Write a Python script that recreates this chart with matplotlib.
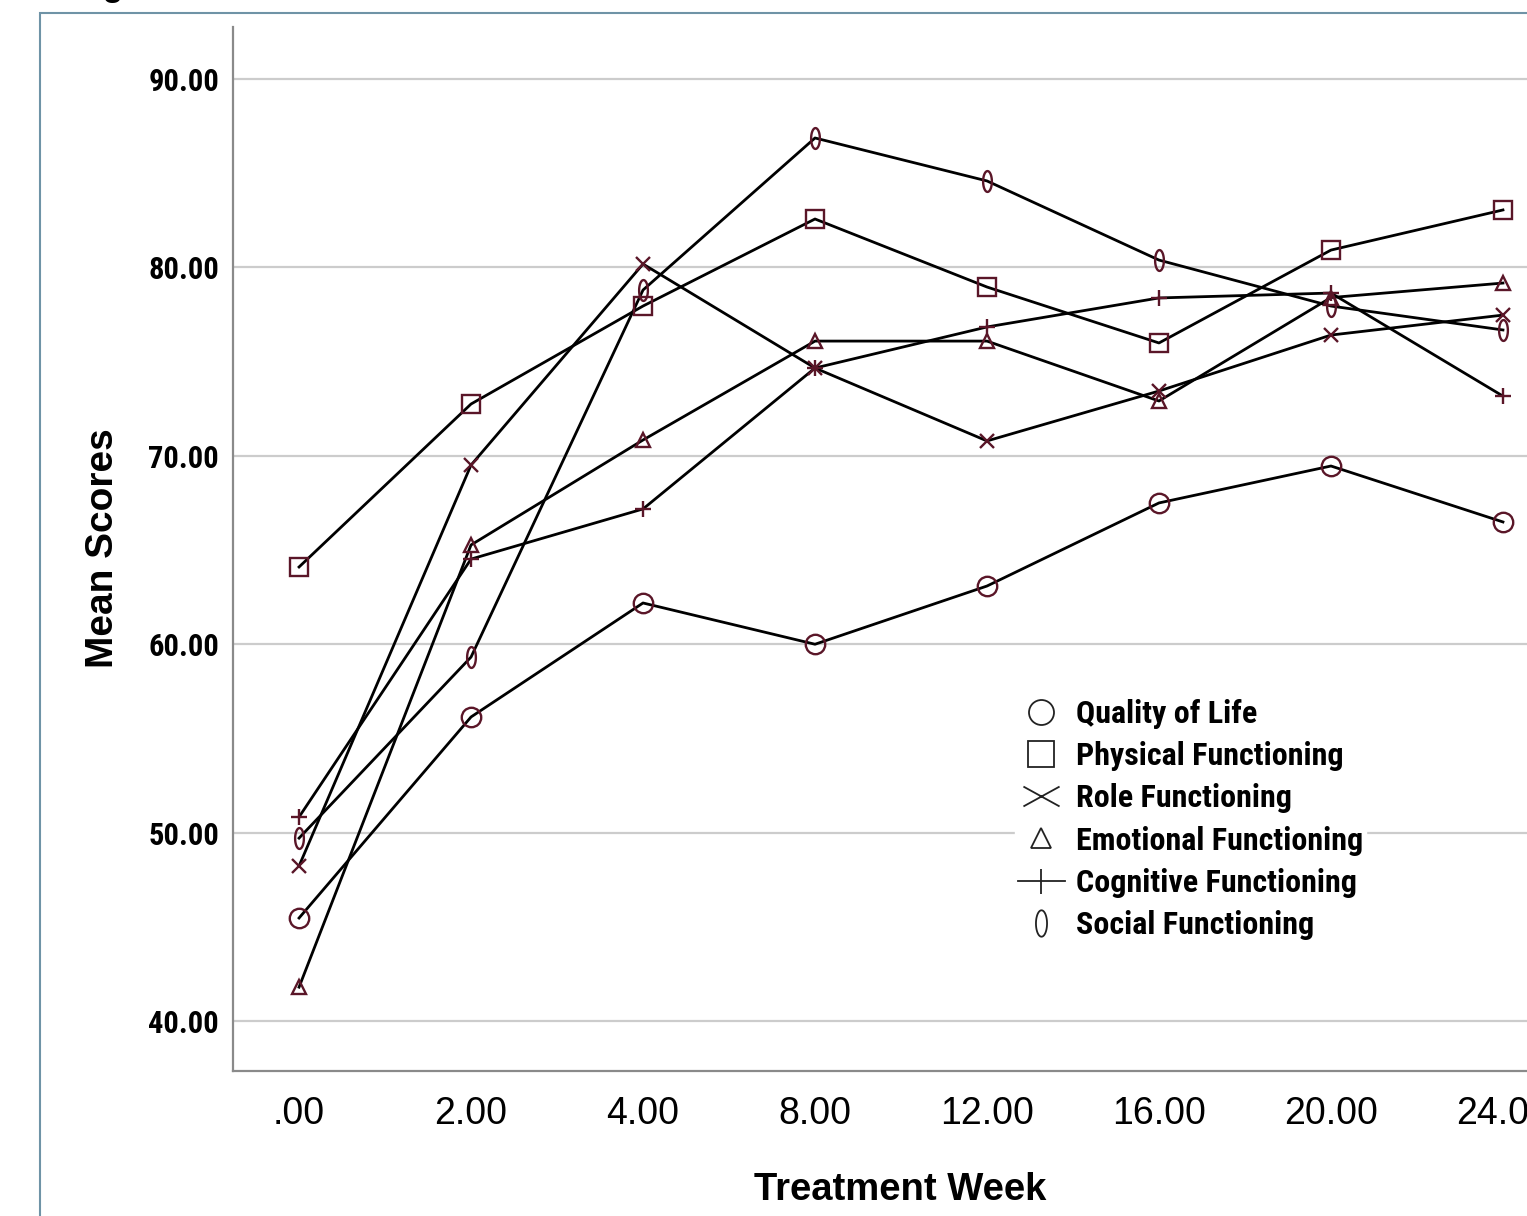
import matplotlib
matplotlib.use("Agg")
import matplotlib.pyplot as plt
from matplotlib.lines import Line2D
from matplotlib.path import Path
from matplotlib.patches import Rectangle
from matplotlib.font_manager import FontProperties
import numpy as np

weeks = [".00", "2.00", "4.00", "8.00", "12.00", "16.00", "20.00", "24.00"]
quality_of_life = [45.47, 56.14, 62.19, 60.00, 63.09, 67.50, 69.46, 66.49]
physical = [64.10, 72.75, 77.95, 82.57, 78.96, 75.99, 80.92, 83.05]
role = [48.23, 69.51, 80.18, 74.66, 70.79, 73.44, 76.41, 77.47]
emotional = [41.80, 65.27, 70.84, 76.09, 76.09, 72.91, 78.40, 79.17]
cognitive = [50.83, 64.52, 67.18, 74.66, 76.84, 78.38, 78.64, 73.17]
social = [49.71, 59.32, 78.80, 86.87, 84.59, 80.39, 77.95, 76.68]
series_names = ["Quality of Life", "Physical Functioning", "Role Functioning",
                "Emotional Functioning", "Cognitive Functioning", "Social Functioning"]
y_ticks = [40, 50, 60, 70, 80, 90]

W, H = 1527, 1216
fig = plt.figure(figsize=(W / 100, H / 100), dpi=100)
fig.patch.set_facecolor("white")

narrow = ["Liberation Sans Narrow", "Arial Narrow", "Roboto Condensed", "DejaVu Sans"]

# axes extends past right edge (cropped like the reference)
left_px, right_px, bottom_px, top_px = 233, 1569, 1071, 27
ax = fig.add_axes([left_px / W, (H - bottom_px) / H, (right_px - left_px) / W, (bottom_px - top_px) / H])

# ellipse "0" marker
t = np.linspace(0, 2 * np.pi, 60)
ell_verts = np.column_stack([0.42 * np.cos(t), np.sin(t)])
ellipse = Path(ell_verts, closed=True)
wide_x = Path([(-1, -0.55), (1, 0.55), (-1, 0.55), (1, -0.55)],
              [Path.MOVETO, Path.LINETO, Path.MOVETO, Path.LINETO])

mcol = "#5a1628"
series = [quality_of_life, physical, role, emotional, cognitive, social]
markers = ["o", "s", "x", "^", "+", ellipse]
msizes = [14, 13, 10, 10, 12, 15]

xs = np.arange(len(weeks))
for vals, m, ms in zip(series, markers, msizes):
    ax.plot(xs, vals, color="black", lw=2.0, zorder=3)
    ax.plot(xs, vals, linestyle="none", marker=m, markersize=ms,
            markerfacecolor="none", markeredgecolor=mcol, markeredgewidth=1.7, zorder=4)

ax.set_xlim(-0.384, 7.384)
ax.set_ylim(37.35, 92.76)
ax.set_yticks(y_ticks)
ytick_font = FontProperties(family=narrow, weight="bold", stretch="condensed", size=22)
ax.set_yticklabels([f"{v:.2f}" for v in y_ticks], fontproperties=ytick_font)
ax.set_xticks(xs)
ax.set_xticklabels(weeks, family=["Liberation Sans", "DejaVu Sans"], fontsize=27)
ax.tick_params(axis="y", length=0, pad=10)
ax.tick_params(axis="x", length=0, pad=18)
ax.yaxis.grid(True, color="#cccccc", lw=1.6, zorder=0)
ax.set_axisbelow(True)
for s in ["top", "right"]:
    ax.spines[s].set_visible(False)
for s in ["left", "bottom"]:
    ax.spines[s].set_color("#8a8a8a")
    ax.spines[s].set_linewidth(1.6)

fig.text(900 / W, 1 - 1190 / H, "Treatment Week", ha="center", va="center",
         family=["Liberation Sans", "DejaVu Sans"], fontweight="bold", fontsize=27.5)
fig.text(103 / W, 1 - 548 / H, "Mean Scores", ha="center", va="center", rotation=90,
         family=["Liberation Sans", "DejaVu Sans"], fontweight="bold", fontsize=28)

# legend
lcol = "#222222"
handles = [
    Line2D([], [], linestyle="none", marker="o", markersize=18, markerfacecolor="none",
           markeredgecolor=lcol, markeredgewidth=1.3),
    Line2D([], [], linestyle="none", marker="s", markersize=19, markerfacecolor="none",
           markeredgecolor=lcol, markeredgewidth=1.3),
    Line2D([], [], linestyle="none", marker=wide_x, markersize=26, markerfacecolor="none",
           markeredgecolor=lcol, markeredgewidth=1.3),
    Line2D([], [], linestyle="none", marker="^", markersize=14, markerfacecolor="none",
           markeredgecolor=lcol, markeredgewidth=1.3),
    Line2D([], [], linestyle="-", color=lcol, lw=1.3, marker="|", markersize=18,
           markeredgecolor=lcol, markeredgewidth=1.3),
    Line2D([], [], linestyle="none", marker=ellipse, markersize=19, markerfacecolor="none",
           markeredgecolor=lcol, markeredgewidth=1.3),
]
leg_font = FontProperties(family=narrow, weight="bold", stretch="condensed", size=23)
leg = ax.legend(handles, series_names, loc="upper left",
                bbox_to_anchor=(1015 / W, 1 - 696 / H), bbox_transform=fig.transFigure,
                frameon=True, facecolor="white", edgecolor="white", framealpha=1,
                fancybox=False, handlelength=1.45, handletextpad=0.35, labelspacing=0.38,
                borderpad=0.1, borderaxespad=0, prop=leg_font)
leg.set_zorder(10)

# outer frame of the screenshot
fig.add_artist(Rectangle((40 / W, -0.1), 2, (H - 13) / H + 0.1, transform=fig.transFigure,
                         fill=False, edgecolor="#6f93a6", lw=1.5))
# descender of cropped caption above
fig.text(74 / W, 1 + 4 / H, "Fig", ha="left", va="baseline",
         family=["Liberation Sans", "DejaVu Sans"], fontweight="bold", fontsize=24)

fig.savefig("out.png", dpi=100)
